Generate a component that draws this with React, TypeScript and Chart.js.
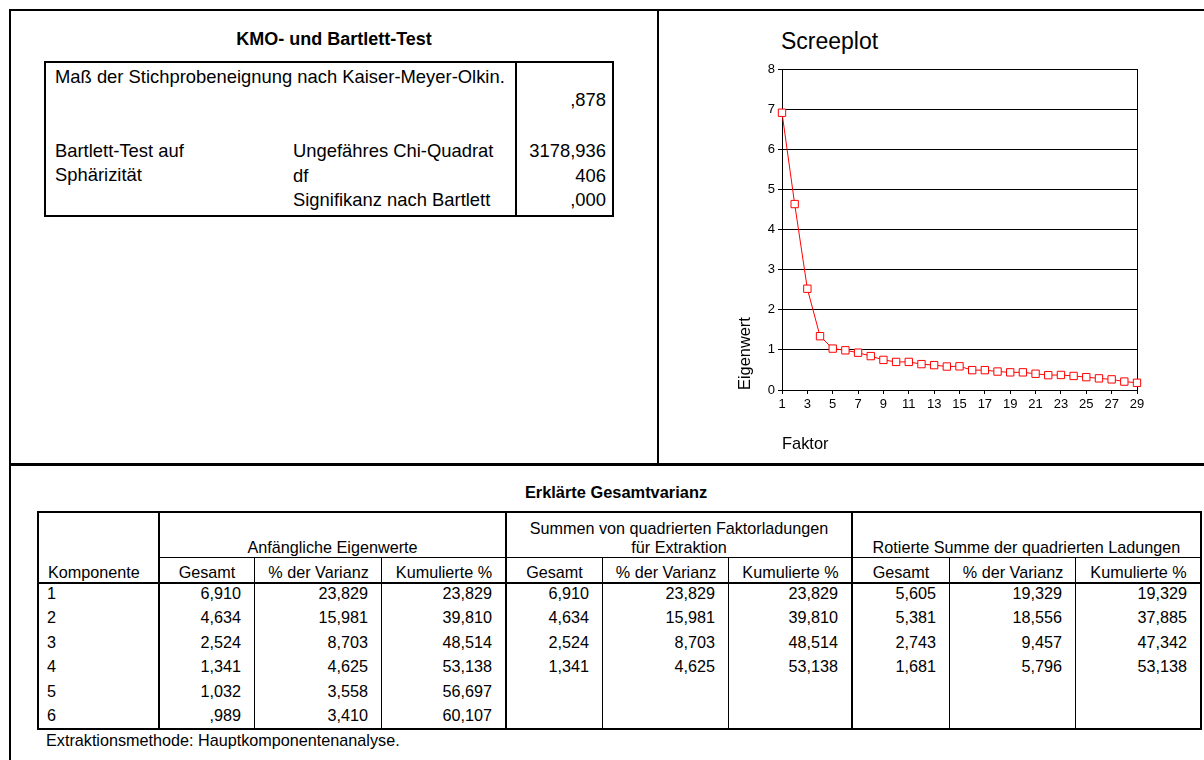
import React, { useEffect, useRef } from "react";
import { Chart, registerables } from "chart.js";

Chart.register(...registerables);

const FONT = '"Liberation Sans", Arial, Helvetica, sans-serif';

// ---- Scree plot data ----
const factors = ["1","2","3","4","5","6","7","8","9","10","11","12","13","14","15","16","17","18","19","20","21","22","23","24","25","26","27","28","29"];
const eigenvalues = [6.910, 4.634, 2.524, 1.341, 1.032, 0.989, 0.93, 0.845, 0.75, 0.70, 0.70, 0.645, 0.62, 0.585, 0.59, 0.495, 0.495, 0.46, 0.44, 0.44, 0.405, 0.37, 0.375, 0.35, 0.32, 0.29, 0.265, 0.21, 0.18];
const yMin = 0;
const yMax = 8;

// ---- KMO table ----
const kmoTitle = "KMO- und Bartlett-Test";
const kmoLabel = "Maß der Stichprobeneignung nach Kaiser-Meyer-Olkin.";
const kmoValue = ",878";
const bartlettLabel = ["Bartlett-Test auf", "Sphärizität"];
const bartlettItems = ["Ungefähres Chi-Quadrat", "df", "Signifikanz nach Bartlett"];
const bartlettValues = ["3178,936", "406", ",000"];

// ---- Variance table ----
const varTitle = "Erklärte Gesamtvarianz";
const groupHeaders = [["Anfängliche Eigenwerte"], ["Summen von quadrierten Faktorladungen", "für Extraktion"], ["Rotierte Summe der quadrierten Ladungen"]];
const subHeaders = ["Gesamt", "% der Varianz", "Kumulierte %"];
const components = ["1", "2", "3", "4", "5", "6"];
const initialTotal = ["6,910", "4,634", "2,524", "1,341", "1,032", ",989"];
const initialPct = ["23,829", "15,981", "8,703", "4,625", "3,558", "3,410"];
const initialCum = ["23,829", "39,810", "48,514", "53,138", "56,697", "60,107"];
const extractTotal = ["6,910", "4,634", "2,524", "1,341", "", ""];
const extractPct = ["23,829", "15,981", "8,703", "4,625", "", ""];
const extractCum = ["23,829", "39,810", "48,514", "53,138", "", ""];
const rotTotal = ["5,605", "5,381", "2,743", "1,681", "", ""];
const rotPct = ["19,329", "18,556", "9,457", "5,796", "", ""];
const rotCum = ["19,329", "37,885", "47,342", "53,138", "", ""];
const footnote = "Extraktionsmethode: Hauptkomponentenanalyse.";

type TxtProps = { x: number; y: number; s: string; size: number; bold?: boolean; align?: "left" | "right" | "center" };
function Txt({ x, y, s, size, bold, align }: TxtProps) {
  const tr = align === "right" ? "translateX(-100%)" : align === "center" ? "translateX(-50%)" : undefined;
  return (
    <div
      style={{
        position: "absolute",
        left: x,
        top: y - size,
        height: size * 2,
        lineHeight: `${size * 2}px`,
        fontSize: size,
        fontWeight: bold ? 700 : 400,
        whiteSpace: "nowrap",
        transform: tr,
        color: "#000",
      }}
    >
      {s}
    </div>
  );
}

function Rect({ x, y, w, h }: { x: number; y: number; w: number; h: number }) {
  return <div style={{ position: "absolute", left: x, top: y, width: w, height: h, background: "#000" }} />;
}

function ScreePlot() {
  const ref = useRef<HTMLCanvasElement | null>(null);
  useEffect(() => {
    if (!ref.current) return;
    const frame = {
      id: "frame",
      beforeDatasetsDraw(chart: any) {
        const { ctx, chartArea } = chart;
        ctx.save();
        ctx.strokeStyle = "#000";
        ctx.lineWidth = 1;
        ctx.beginPath();
        ctx.moveTo(Math.round(chartArea.right) + 0.5, chartArea.top);
        ctx.lineTo(Math.round(chartArea.right) + 0.5, chartArea.bottom);
        ctx.stroke();
        ctx.restore();
      },
    };
    const chart = new Chart(ref.current, {
      type: "line",
      data: {
        labels: factors,
        datasets: [
          {
            data: eigenvalues,
            borderColor: "#ff0000",
            borderWidth: 1,
            pointStyle: "rect",
            pointRadius: 5.2,
            pointBorderColor: "#ff0000",
            pointBackgroundColor: "#ffffff",
            pointBorderWidth: 1,
            tension: 0,
            fill: false,
            clip: false,
          } as any,
        ],
      },
      options: {
        animation: false,
        responsive: false,
        devicePixelRatio: 1,
        layout: { padding: { left: 0, top: 49, right: 53, bottom: 0 } },
        plugins: { legend: { display: false }, tooltip: { enabled: false } },
        scales: {
          x: {
            type: "category",
            offset: false,
            grid: { drawOnChartArea: false, drawTicks: true, tickLength: 4, color: "#000" },
            border: { color: "#000", width: 1 },
            ticks: {
              autoSkip: false,
              maxRotation: 0,
              padding: 3,
              color: "#000",
              font: { family: FONT, size: 13 },
              callback: (_v: any, i: number) => (i % 2 === 0 ? factors[i] : null),
            },
            title: {
              display: true,
              text: "Faktor",
              align: "start",
              color: "#000",
              font: { family: FONT, size: 16.4 },
              padding: { top: 0, bottom: 6 },
            },
            afterFit: (s: any) => {
              s.height = 70;
            },
          },
          y: {
            min: yMin,
            max: yMax,
            ticks: { stepSize: 1, padding: 3, color: "#000", font: { family: FONT, size: 13 } },
            grid: { color: "#000", lineWidth: 1, tickLength: 4 },
            border: { color: "#000", width: 1 },
            title: {
              display: true,
              text: "Eigenwert",
              align: "start",
              color: "#000",
              font: { family: FONT, size: 16.4 },
              padding: { top: 36, bottom: 0 },
            },
            afterFit: (s: any) => {
              s.width = 82;
            },
          },
        },
      } as any,
      plugins: [frame],
    });
    return () => chart.destroy();
  }, []);
  return <canvas ref={ref} width={490} height={440} style={{ position: "absolute", left: 700, top: 20, width: 490, height: 440 }} />;
}

export default function App() {
  const cols = [37, 158, 254, 381, 505, 602, 728, 851, 949, 1075, 1200];
  const thick = [1, 4, 7];
  const thin = [2, 3, 5, 6, 8, 9];
  const tTop = 511;
  const tBottom = 728;
  const subLine = 557;
  const headBottom = 582;
  const rowY0 = 593;
  const rowH = 24.5;
  const fs = 16.2;
  const kfs = 18.4;
  const dataCols = [initialTotal, initialPct, initialCum, extractTotal, extractPct, extractCum, rotTotal, rotPct, rotCum];
  const bY = [151, 176, 200];

  return (
    <div
      style={{
        position: "fixed",
        left: 0,
        top: 0,
        width: 1204,
        height: 760,
        background: "#fff",
        overflow: "hidden",
        fontFamily: FONT,
      }}
    >
      {/* outer frame */}
      <Rect x={9} y={9} w={1195} h={2} />
      <Rect x={9} y={9} w={2} h={751} />
      <Rect x={657} y={9} w={2} h={455} />
      <Rect x={9} y={463} w={1195} h={3} />

      {/* KMO table */}
      <Txt x={334} y={39} s={kmoTitle} size={18} bold align="center" />
      <Rect x={44} y={61} w={570} h={2} />
      <Rect x={44} y={215} w={570} h={2} />
      <Rect x={44} y={61} w={2} h={156} />
      <Rect x={612} y={61} w={2} h={156} />
      <Rect x={515} y={61} w={2} h={156} />
      <Txt x={55} y={77} s={kmoLabel} size={kfs} />
      <Txt x={606} y={100} s={kmoValue} size={kfs} align="right" />
      <Txt x={55} y={bY[0]} s={bartlettLabel[0]} size={kfs} />
      <Txt x={55} y={175} s={bartlettLabel[1]} size={kfs} />
      {bartlettItems.map((t, i) => (
        <Txt key={"bi" + i} x={293} y={bY[i]} s={t} size={kfs} />
      ))}
      {bartlettValues.map((t, i) => (
        <Txt key={"bv" + i} x={606} y={bY[i]} s={t} size={kfs} align="right" />
      ))}

      {/* Scree plot */}
      <Txt x={781} y={41} s="Screeplot" size={23} />
      <ScreePlot />

      {/* Variance table */}
      <Txt x={616} y={492} s={varTitle} size={16.4} bold align="center" />
      <Rect x={cols[0]} y={tTop} w={cols[10] - cols[0] + 2} h={2} />
      <Rect x={cols[0]} y={tBottom} w={cols[10] - cols[0] + 2} h={2} />
      <Rect x={cols[0]} y={tTop} w={2} h={tBottom - tTop + 2} />
      <Rect x={cols[10]} y={tTop} w={2} h={tBottom - tTop + 2} />
      {thick.map((c) => (
        <Rect key={"tk" + c} x={cols[c]} y={tTop} w={2} h={tBottom - tTop + 2} />
      ))}
      {thin.map((c) => (
        <Rect key={"tn" + c} x={cols[c]} y={subLine} w={1} h={tBottom - subLine} />
      ))}
      <Rect x={cols[1]} y={subLine} w={cols[10] - cols[1]} h={1} />
      <Rect x={cols[0]} y={headBottom} w={cols[10] - cols[0] + 2} h={2} />

      {groupHeaders.map((g, gi) => {
        const cx = (cols[1 + gi * 3] + cols[4 + gi * 3]) / 2 + 1;
        return g.map((line, li) => (
          <Txt key={"g" + gi + li} x={cx} y={547 - (g.length - 1 - li) * 19} s={line} size={fs} align="center" />
        ));
      })}
      <Txt x={48} y={572} s="Komponente" size={fs} />
      {[0, 1, 2, 3, 4, 5, 6, 7, 8].map((k) => (
        <Txt key={"sh" + k} x={(cols[1 + k] + cols[2 + k]) / 2 + 1} y={572} s={subHeaders[k % 3]} size={fs} align="center" />
      ))}
      {components.map((c, r) => (
        <Txt key={"c" + r} x={47} y={rowY0 + r * rowH} s={c} size={fs} />
      ))}
      {dataCols.map((col, k) =>
        col.map((v, r) =>
          v ? <Txt key={"d" + k + "_" + r} x={cols[2 + k] - 13} y={rowY0 + r * rowH} s={v} size={fs} align="right" /> : null
        )
      )}
      <Txt x={46} y={740} s={footnote} size={fs} />
    </div>
  );
}
